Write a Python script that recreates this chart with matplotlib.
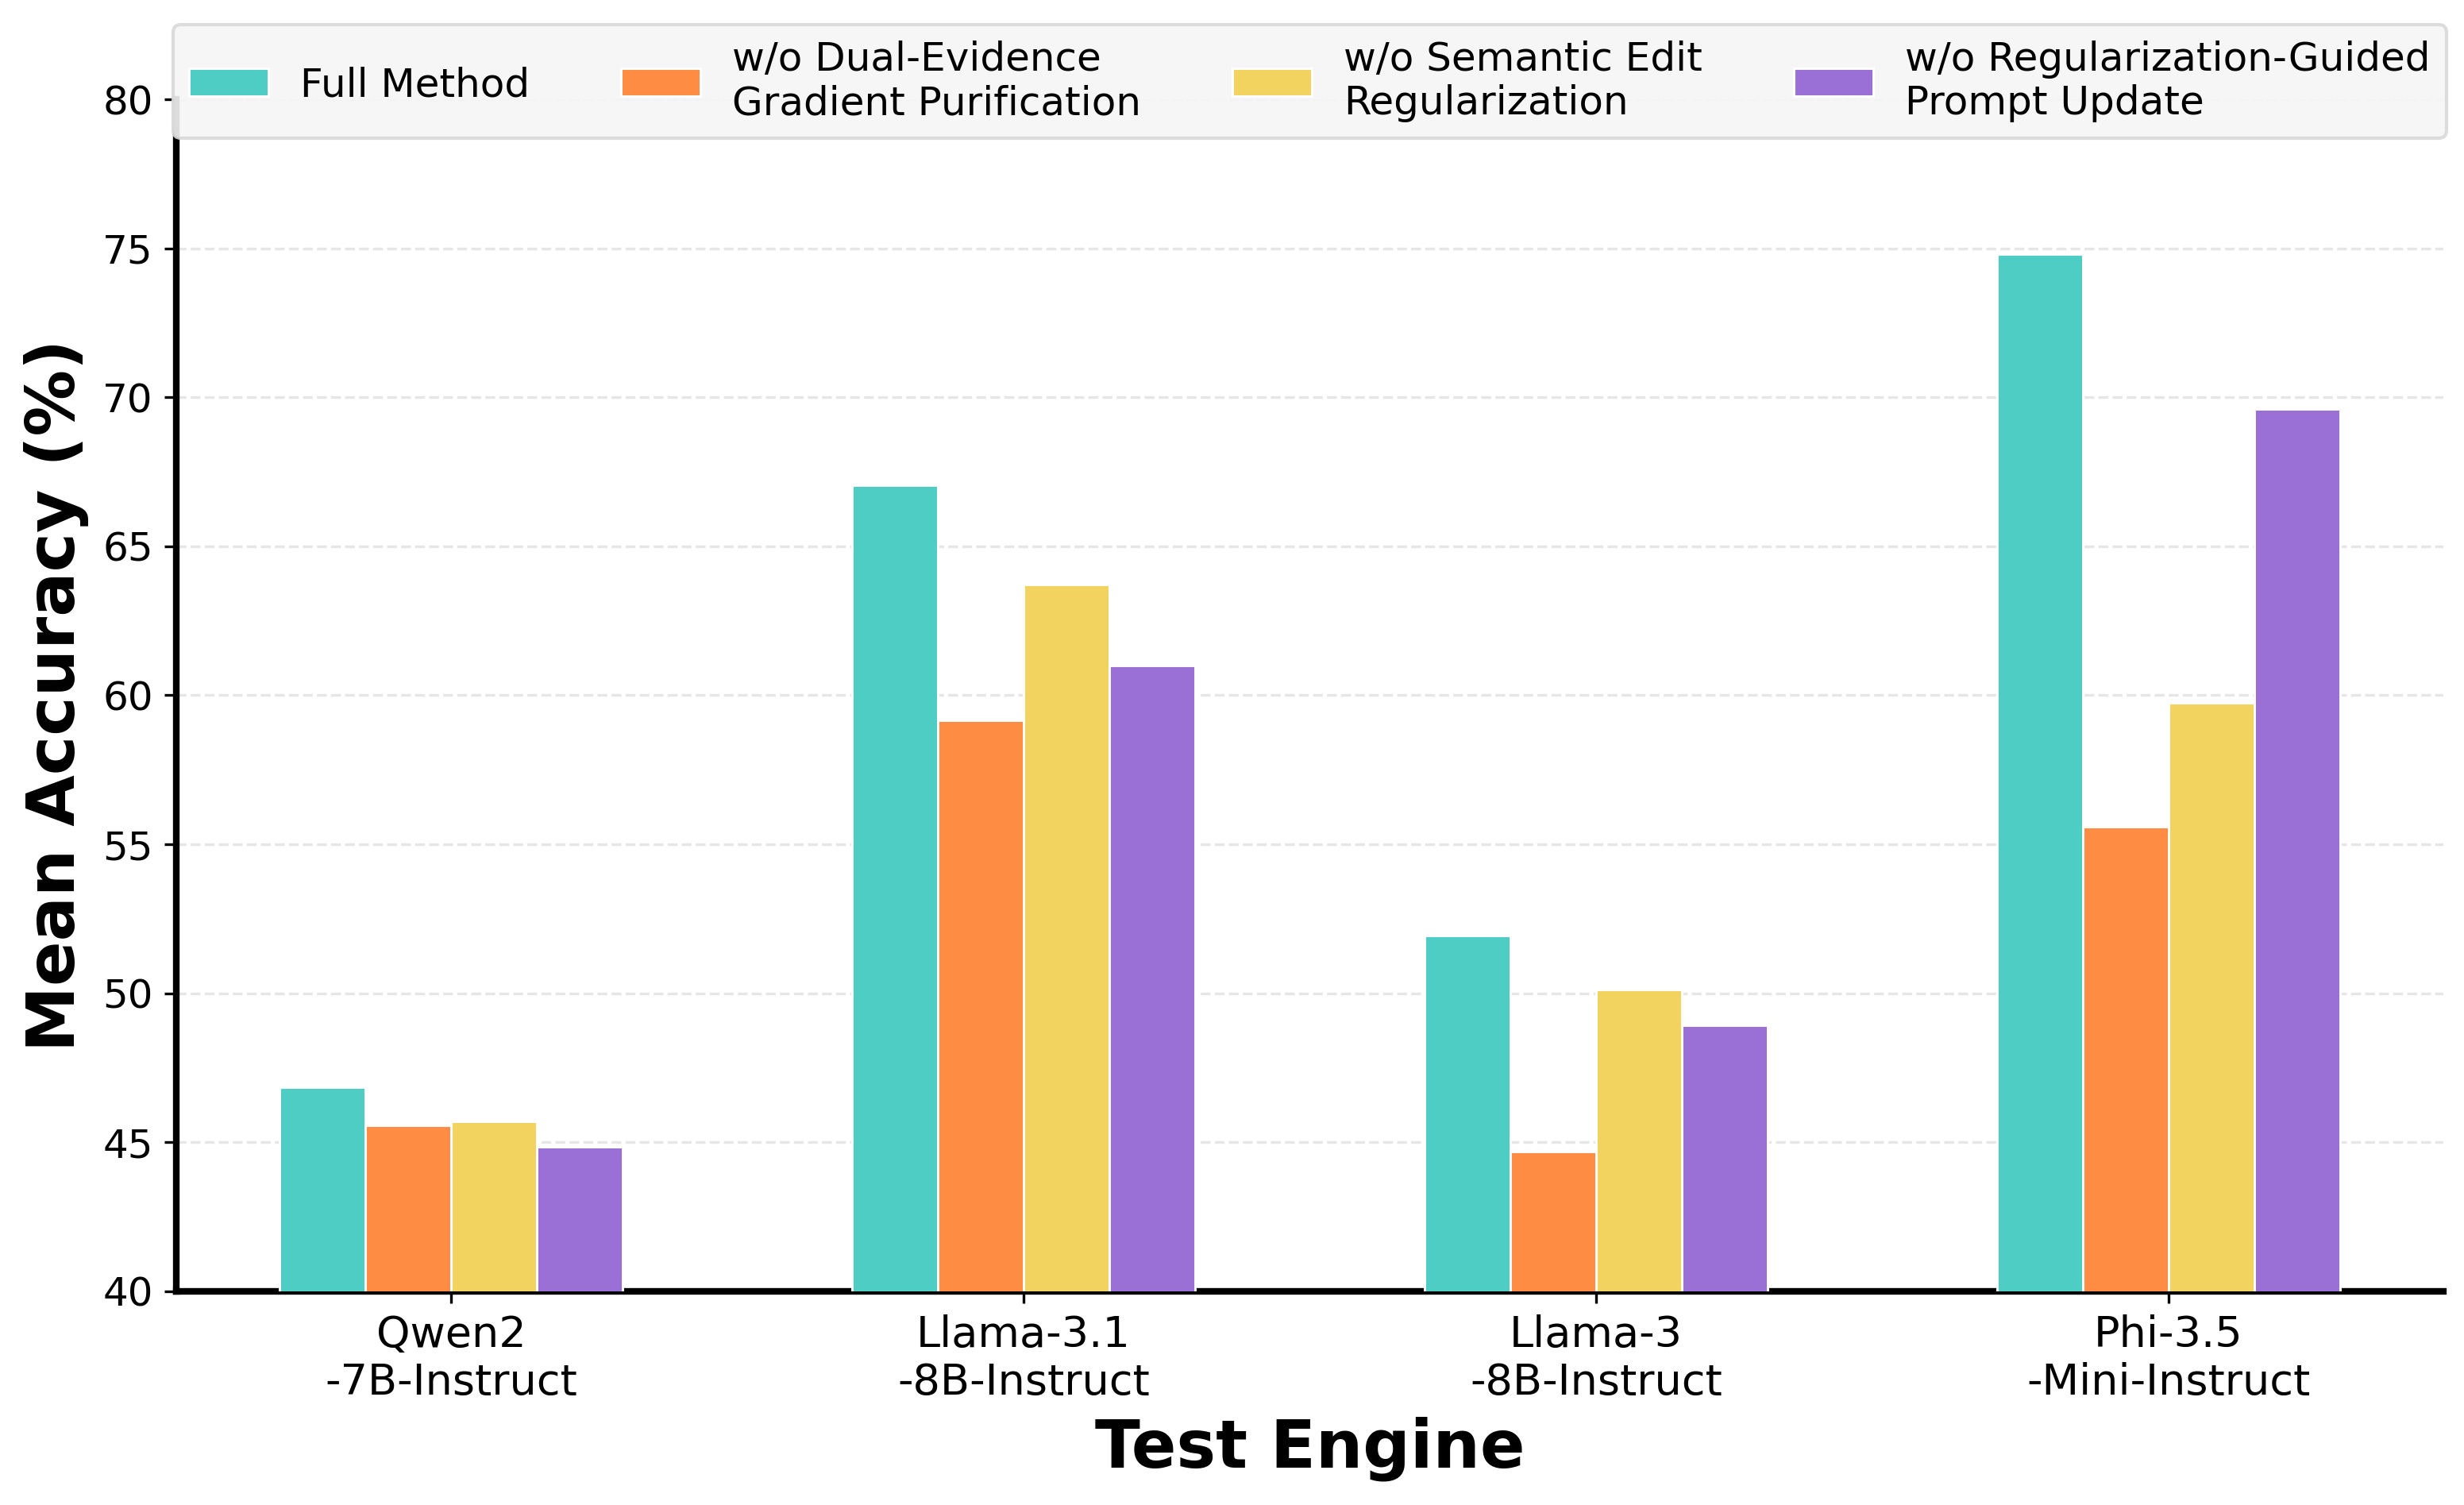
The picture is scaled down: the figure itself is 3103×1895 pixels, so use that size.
import matplotlib.pyplot as plt
import numpy as np

# test engines and accuracy (%) per ablation
engines = ["Qwen2\n-7B-Instruct", "Llama-3.1\n-8B-Instruct",
           "Llama-3\n-8B-Instruct", "Phi-3.5\n-Mini-Instruct"]
full_method = [46.86, 67.05, 51.94, 74.81]
wo_dual_evidence = [45.58, 59.16, 44.70, 55.60]
wo_semantic_edit = [45.71, 63.72, 50.13, 59.75]
wo_reg_guided = [44.86, 61.00, 48.93, 69.61]

labels = ["Full Method",
          "w/o Dual-Evidence\nGradient Purification",
          "w/o Semantic Edit\nRegularization",
          "w/o Regularization-Guided\nPrompt Update"]
colors = ["#4ECDC4", "#FF8C42", "#F3D35F", "#9B70D6"]
series = [full_method, wo_dual_evidence, wo_semantic_edit, wo_reg_guided]

fig = plt.figure(figsize=(3103 / 300, 1895 / 300), dpi=300)
ax = fig.add_axes([0.0715, 0.142, 0.9201, 0.792])

x = np.arange(len(engines))
width = 0.15
for j, (vals, lab, col) in enumerate(zip(series, labels, colors)):
    ax.bar(x + (j - 1.5) * width, vals, width, label=lab, color=col,
           edgecolor="white", linewidth=0.7, zorder=3)

ax.set_ylim(40, 80)
ax.set_xticks(x)
ax.set_xticklabels(engines, fontsize=13)
ax.tick_params(axis="y", labelsize=12)
ax.set_xlabel("Test Engine", fontsize=20, fontweight="bold")
ax.set_ylabel("Mean Accuracy (%)", fontsize=20, fontweight="bold")

ax.grid(axis="y", linestyle="--", linewidth=0.8, color="#e6e6e6")
ax.set_axisbelow(True)

ax.spines["top"].set_visible(False)
ax.spines["right"].set_visible(False)
ax.spines["left"].set_linewidth(2)
ax.spines["bottom"].set_linewidth(2)

leg = ax.legend(loc="upper center", bbox_to_anchor=(0.5, 1.063),
                ncol=4, fontsize=12, borderaxespad=0, columnspacing=2.3,
                fancybox=True, framealpha=0.9, facecolor="#f5f5f5",
                edgecolor="#d9d9d9")

fig.savefig("out.png", dpi=300)
